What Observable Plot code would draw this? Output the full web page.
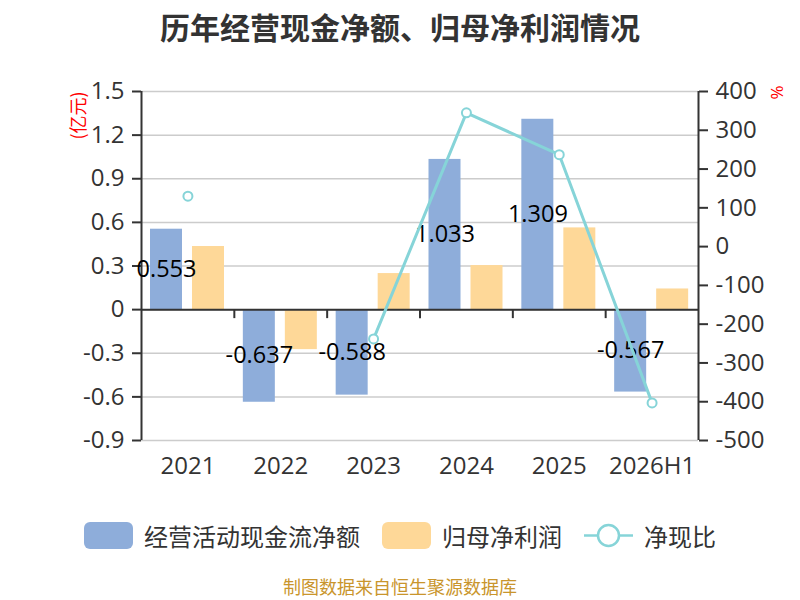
<!DOCTYPE html>
<html>
<head>
<meta charset="utf-8">
<script src="https://cdn.jsdelivr.net/npm/d3@7"></script>
<script src="https://cdn.jsdelivr.net/npm/@observablehq/plot@0.6"></script>
<style>
  body { margin: 0; background: #fff; font-family: "Noto Sans CJK SC", "Noto Sans", sans-serif; }
  #wrap { width: 800px; }
  #title { height: 52px; line-height: 52px; text-align: center; font-size: 30px; font-weight: bold; color: #333; }
  #chart svg { display: block; }
  #legend { height: 70px; display: flex; align-items: center; justify-content: center; font-size: 24px; color: #333; }
  #legend .sw { width: 49px; height: 27px; border-radius: 6px; margin-right: 11px; }
  #legend .lab { margin-right: 22px; }
  #legend svg { margin-right: 11px; }
  #caption { margin-top: 6px; height: 20px; line-height: 20px; text-align: center; font-size: 18px; color: #c9952c; }
</style>
</head>
<body>
<div id="wrap">
  <div id="title">历年经营现金净额、归母净利润情况</div>
  <div id="chart"></div>
  <div id="legend"></div>
  <div id="caption">制图数据来自恒生聚源数据库</div>
</div>
<script>
const categories = ["2021", "2022", "2023", "2024", "2025", "2026H1"];
const cashFlow = [0.553, -0.637, -0.588, 1.033, 1.309, -0.567];
const netProfit = [0.434, -0.275, 0.248, 0.303, 0.562, 0.142];
const cashRatio = [130, null, -238, 345, 237, -403];
const leftTicks = [-0.9, -0.6, -0.3, 0, 0.3, 0.6, 0.9, 1.2, 1.5];
const rightTicks = [-500, -400, -300, -200, -100, 0, 100, 200, 300, 400];
const seriesNames = ["经营活动现金流净额", "归母净利润", "净现比"];
const colors = ["#8eadda", "#fed898", "#86d4d8"];

const leftDomain = [leftTicks[0], leftTicks[leftTicks.length - 1]];
const rightDomain = [rightTicks[0], rightTicks[rightTicks.length - 1]];
const toLeft = v => v == null ? null :
  leftDomain[0] + (v - rightDomain[0]) * (leftDomain[1] - leftDomain[0]) / (rightDomain[1] - rightDomain[0]);
const fromLeft = v => rightDomain[0] + (v - leftDomain[0]) * (rightDomain[1] - rightDomain[0]) / (leftDomain[1] - leftDomain[0]);

const rows = categories.map((c, i) => ({year: c, cash: cashFlow[i], profit: netProfit[i], ratio: toLeft(cashRatio[i])}));

const W = 800, H = 448, mL = 141, mR = 102, mT = 39, mB = 60;
const bw = (W - mL - mR) / categories.length;
const axisColor = "#333";
const numFont = '"Open Sans", "Noto Sans CJK SC", sans-serif';

const chart = Plot.plot({
  width: W, height: H,
  marginLeft: mL, marginRight: mR, marginTop: mT, marginBottom: mB,
  style: {fontSize: "24px", fontFamily: numFont, color: "#333", background: "#fff"},
  x: {domain: categories, padding: 0, round: false, axis: null},
  y: {domain: leftDomain, axis: null},
  marks: [
    Plot.gridY(leftTicks, {stroke: "#cccccc", strokeOpacity: 1, strokeWidth: 1.5}),
    Plot.barY(rows, {x: "year", y: "cash", fill: colors[0], insetLeft: 9, insetRight: bw - 41}),
    Plot.barY(rows, {x: "year", y: "profit", fill: colors[1], insetLeft: 51, insetRight: bw - 83}),
    Plot.ruleY([0], {stroke: axisColor, strokeWidth: 2}),
    Plot.ruleX(categories.slice(0, -1), {x: d => d, y1: 0, y2: 0, dx: bw / 2, insetTop: 0, insetBottom: -9, stroke: axisColor, strokeWidth: 2}),
    Plot.ruleX([categories[0]], {x: d => d, dx: -bw / 2, stroke: axisColor, strokeWidth: 2}),
    Plot.ruleX([categories[categories.length - 1]], {x: d => d, dx: bw / 2, stroke: axisColor, strokeWidth: 2}),
    Plot.axisY(leftTicks, {anchor: "left", tickSize: 9, tickPadding: 8, tickFormat: d => String(d), stroke: axisColor, strokeWidth: 2, fill: "#333", label: null}),
    Plot.axisY(rightTicks.map(toLeft), {anchor: "right", tickSize: 9, tickPadding: 8, tickFormat: d => String(Math.round(fromLeft(d))), stroke: axisColor, strokeWidth: 2, fill: "#333", label: null}),
    Plot.axisX({anchor: "bottom", tickSize: 0, tickPadding: 16, fill: "#333", label: null}),
    Plot.text(rows, {x: "year", y: d => d.cash / 2, text: d => String(d.cash), dx: -21.4, fill: "#000", fontSize: 23.5}),
    Plot.line(rows, {x: "year", y: "ratio", stroke: colors[2], strokeWidth: 3}),
    Plot.dot(rows, {x: "year", y: "ratio", r: 4.5, fill: "#fff", stroke: colors[2], strokeWidth: 2}),
    Plot.text(["(亿元)"], {text: d => d, frameAnchor: "top-left", textAnchor: "middle", lineAnchor: "middle", dx: -62, dy: 24, rotate: -90, fill: "red", fontSize: 18, fontFamily: '"Noto Sans CJK SC", sans-serif'}),
    Plot.text(["%"], {text: d => d, frameAnchor: "top-right", textAnchor: "middle", lineAnchor: "middle", dx: 79, dy: 1, rotate: -90, fill: "red", fontSize: 17})
  ]
});
document.getElementById("chart").appendChild(chart);

const legend = document.getElementById("legend");
seriesNames.forEach((name, i) => {
  if (i < 2) {
    const sw = document.createElement("span");
    sw.className = "sw";
    sw.style.background = colors[i];
    legend.appendChild(sw);
  } else {
    const ns = "http://www.w3.org/2000/svg";
    const s = document.createElementNS(ns, "svg");
    s.setAttribute("width", 49); s.setAttribute("height", 27);
    const ln = document.createElementNS(ns, "line");
    ln.setAttribute("x1", 0); ln.setAttribute("x2", 49); ln.setAttribute("y1", 13.5); ln.setAttribute("y2", 13.5);
    ln.setAttribute("stroke", colors[2]); ln.setAttribute("stroke-width", 2.5);
    const c = document.createElementNS(ns, "circle");
    c.setAttribute("cx", 24.5); c.setAttribute("cy", 13.5); c.setAttribute("r", 10.5);
    c.setAttribute("fill", "#fff"); c.setAttribute("stroke", colors[2]); c.setAttribute("stroke-width", 2.5);
    s.appendChild(ln); s.appendChild(c);
    legend.appendChild(s);
  }
  const t = document.createElement("span");
  t.className = "lab";
  if (i === seriesNames.length - 1) t.style.marginRight = "0";
  t.textContent = name;
  legend.appendChild(t);
});
</script>
</body>
</html>
